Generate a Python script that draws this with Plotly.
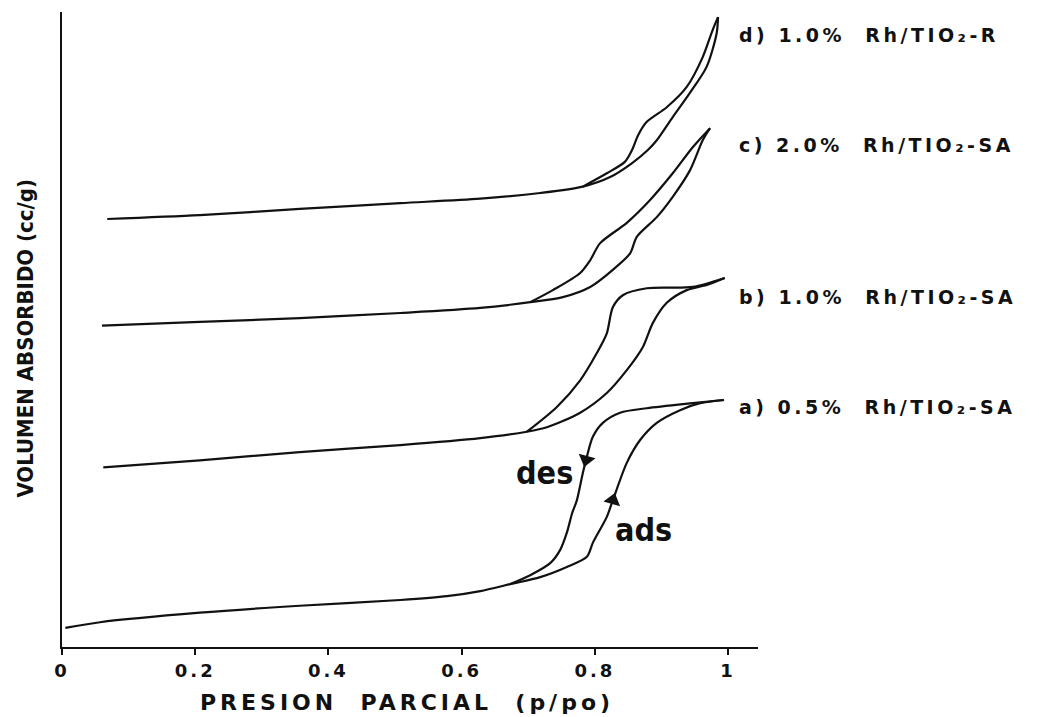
import plotly.graph_objects as go

# ---- data (x = p/po, y = volumen absorbido, arbitrary offset units) ----
a_ads_x = [0.005, 0.057, 0.207, 0.357, 0.508, 0.578, 0.628, 0.673, 0.718, 0.758, 0.788, 0.797, 0.818, 0.827, 0.848, 0.868, 0.893, 0.928, 0.958, 0.994]
a_ads_y = [3.0, 3.9, 5.4, 6.5, 7.4, 8.0, 8.8, 9.9, 11.0, 12.6, 14.2, 16.4, 20.5, 23.1, 29.0, 32.6, 35.3, 37.3, 38.4, 38.9]
a_des_x = [0.994, 0.947, 0.878, 0.838, 0.812, 0.797, 0.787, 0.782, 0.773, 0.766, 0.758, 0.748, 0.733, 0.703, 0.673]
a_des_y = [38.9, 38.4, 37.6, 36.9, 35.3, 33.1, 29.5, 27.4, 23.1, 21.1, 18.0, 15.3, 13.2, 11.3, 9.9]

b_ads_x = [0.062, 0.207, 0.357, 0.508, 0.628, 0.698, 0.728, 0.778, 0.818, 0.848, 0.872, 0.887, 0.908, 0.938, 0.968, 0.995]
b_ads_y = [28.3, 29.4, 30.7, 31.8, 32.9, 33.9, 34.6, 36.9, 40.0, 43.6, 47.2, 51.0, 54.2, 56.2, 57.0, 58.1]
b_des_x = [0.995, 0.947, 0.878, 0.842, 0.827, 0.818, 0.803, 0.778, 0.743, 0.698]
b_des_y = [58.1, 56.7, 56.5, 55.4, 53.5, 49.4, 46.3, 42.0, 37.8, 33.9]

c_ads_x = [0.060, 0.207, 0.357, 0.508, 0.628, 0.703, 0.752, 0.793, 0.827, 0.853, 0.863, 0.893, 0.917, 0.943, 0.962, 0.973]
c_ads_y = [50.6, 51.2, 51.8, 52.6, 53.4, 54.3, 55.1, 56.7, 59.4, 62.0, 64.6, 67.7, 70.9, 75.1, 79.8, 81.7]
c_des_x = [0.973, 0.947, 0.917, 0.883, 0.848, 0.808, 0.793, 0.778, 0.737, 0.703]
c_des_y = [81.7, 78.7, 74.6, 70.4, 66.8, 63.6, 60.9, 58.9, 56.2, 54.3]

d_ads_x = [0.068, 0.207, 0.357, 0.508, 0.628, 0.718, 0.782, 0.823, 0.856, 0.880, 0.893, 0.916, 0.943, 0.968, 0.983, 0.985]
d_ads_y = [67.4, 68.0, 69.0, 69.9, 70.6, 71.5, 72.5, 74.0, 76.2, 78.3, 79.8, 83.3, 87.3, 91.4, 96.7, 99.2]
d_des_x = [0.985, 0.977, 0.962, 0.938, 0.908, 0.878, 0.865, 0.856, 0.845, 0.818, 0.782]
d_des_y = [99.2, 97.2, 92.9, 88.2, 85.0, 82.7, 80.6, 78.3, 76.4, 74.6, 72.5]

series = [
    (a_ads_x, a_ads_y, a_des_x, a_des_y),
    (b_ads_x, b_ads_y, b_des_x, b_des_y),
    (c_ads_x, c_ads_y, c_des_x, c_des_y),
    (d_ads_x, d_ads_y, d_des_x, d_des_y),
]
labels = ["a) 0.5%  Rh/TIO\u2082-SA", "b) 1.0%  Rh/TIO\u2082-SA",
          "c) 2.0%  Rh/TIO\u2082-SA", "d) 1.0%  Rh/TIO\u2082-R"]
label_y = [37.8, 55.1, 79.1, 96.4]

tick_vals = [0, 0.2, 0.4, 0.6, 0.8, 1]
tick_text = ["0", "0.2", "0.4", "0.6", "0.8", "1"]

# arrow positions: index of the branch point where the direction arrow sits
des_arrow_idx = 6
ads_arrow_idx = 13

fig = go.Figure()
for ax_, ay_, dx_, dy_ in series:
    for xs, ys in ((ax_, ay_), (dx_, dy_)):
        fig.add_trace(go.Scatter(x=xs, y=ys, mode="lines",
                                 line=dict(color="#111111", width=2.2, shape="spline", smoothing=0.8),
                                 showlegend=False, hoverinfo="skip"))

# arrowheads on the a) branches
fig.add_trace(go.Scatter(x=[a_des_x[des_arrow_idx]], y=[a_des_y[des_arrow_idx]], mode="markers",
                         marker=dict(symbol="triangle-down", size=15, angle=15, color="#111111"),
                         showlegend=False, hoverinfo="skip"))
fig.add_trace(go.Scatter(x=[a_ads_x[ads_arrow_idx]], y=[a_ads_y[ads_arrow_idx]], mode="markers",
                         marker=dict(symbol="triangle-up", size=15, angle=16, color="#111111"),
                         showlegend=False, hoverinfo="skip"))

wide = dict(family="DejaVu Sans", color="#111111", weight="bold")
ann = []
# curve labels (indices 0-3)
for t, yv in zip(labels, label_y):
    ann.append(dict(x=1.013, y=yv, xref="x", yref="y", text=t, showarrow=False,
                    xanchor="left", yanchor="middle", align="left",
                    font=dict(size=19, **wide)))
# x title (index 4)
ann.append(dict(x=0.496, y=-0.087, xref="paper", yref="paper",
                text="PRESION\u00a0\u00a0PARCIAL\u00a0\u00a0(p/po)", showarrow=False,
                xanchor="center", yanchor="middle", align="center",
                font=dict(size=22, **wide)))
# y title (index 5)
ann.append(dict(x=-0.052, y=0.487, xref="paper", yref="paper", textangle=-90,
                text="VOLUMEN ABSORBIDO (cc/g)", showarrow=False,
                xanchor="center", yanchor="middle",
                font=dict(family="Liberation Sans Narrow, DejaVu Sans Condensed, Arial Narrow",
                          size=22, color="#111111", weight="bold")))
# des / ads labels
narrow = dict(family="Liberation Sans Narrow, DejaVu Sans Condensed, Arial Narrow",
              size=32, color="#111111", weight="bold")
ann.append(dict(x=0.725, y=27.4, xref="x", yref="y", text="des", showarrow=False, font=narrow))
ann.append(dict(x=0.873, y=18.5, xref="x", yref="y", text="ads", showarrow=False, font=narrow))

fig.update_layout(
    width=1039, height=717,
    margin=dict(l=62, r=281, t=12, b=70),
    paper_bgcolor="white", plot_bgcolor="white",
    annotations=ann,
    showlegend=False,
)
fig.update_xaxes(range=[0, 1.045], tickvals=tick_vals, ticktext=tick_text,
                 showline=True, linecolor="#111111", linewidth=2,
                 ticks="outside", ticklen=6, tickwidth=2, tickcolor="#111111",
                 showgrid=False, zeroline=False,
                 tickfont=dict(size=18, **wide))
fig.update_yaxes(range=[0, 100], showline=True, linecolor="#111111", linewidth=2,
                 showticklabels=False, ticks="", showgrid=False, zeroline=False)

post = """
function sp(sel, v){document.querySelectorAll(sel).forEach(function(e){e.style.letterSpacing=v;});}
sp('.xtick text','3px');
for (var i=0;i<4;i++){ sp('g.annotation[data-index="'+i+'"] text','3.5px'); }
sp('g.annotation[data-index="4"] text','4px');
"""
fig.write_html("out.html", post_script=post)
